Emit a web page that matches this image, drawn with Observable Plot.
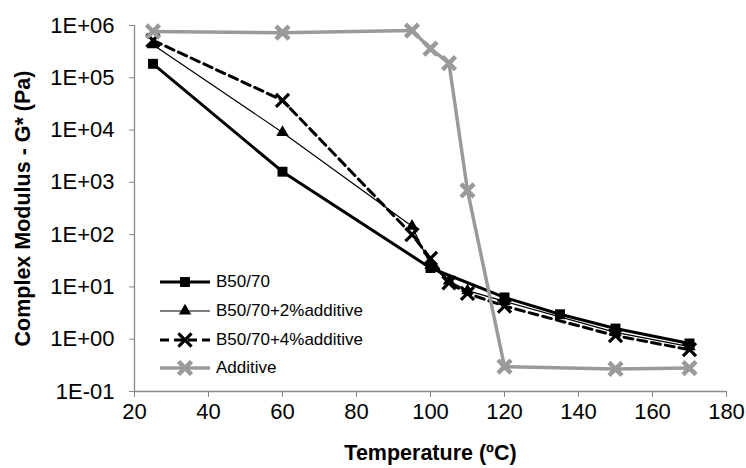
<!DOCTYPE html>
<html><head><meta charset="utf-8">
<script src="https://cdn.jsdelivr.net/npm/d3@7"></script>
<script src="https://cdn.jsdelivr.net/npm/@observablehq/plot@0.6"></script>
<style>
body{margin:0;background:#fff;font-family:"Liberation Sans",Arial,sans-serif}
#wrap{position:relative;width:746px;height:468px}
#legend{position:absolute;left:157px;top:268px;font-size:17px;color:#000}
#legend .row{display:flex;align-items:center;height:28.7px}
#legend svg{display:block;margin-right:3px}
</style></head><body><div id="wrap"></div>
<script>
const seriesNames = ["B50/70", "B50/70+2%additive", "B50/70+4%additive", "Additive"];
const tempB = [25, 60, 100, 120, 135, 150, 170];
const gB = [1.85e5, 1.6e3, 23, 6.3, 3.0, 1.6, 0.83];
const temp2 = [25, 60, 95, 100, 105, 110, 120, 150, 170];
const g2 = [4.3e5, 9e3, 1.45e2, 26, 13, 8.5, 5.3, 1.35, 0.72];
const temp4 = [25, 60, 95, 100, 105, 110, 120, 150, 170];
const g4 = [5.2e5, 3.7e4, 1.0e2, 35, 12, 7.5, 4.3, 1.17, 0.63];
const tempA = [25, 60, 95, 100, 105, 110, 120, 150, 170];
const gA = [7.7e5, 7.3e5, 8e5, 3.6e5, 1.9e5, 700, 0.3, 0.27, 0.28];
const xTicks = [20, 40, 60, 80, 100, 120, 140, 160, 180];
const yTicks = [1e-1, 1e0, 1e1, 1e2, 1e3, 1e4, 1e5, 1e6];
const xTitle = "Temperature (ºC)";
const yTitle = "Complex Modulus - G* (Pa)";

const styles = [
  {stroke: "#000", width: 3, dash: null, symbol: "square", r: 5.6, fill: "#000", mstroke: "none", msw: 0},
  {stroke: "#000", width: 1.2, dash: null, symbol: "triangle", r: 4.6, fill: "#000", mstroke: "none", msw: 0},
  {stroke: "#000", width: 3, dash: "9,5", symbol: "times", r: 6, fill: "none", mstroke: "#000", msw: 3.2},
  {stroke: "#9a9a9a", width: 3.5, dash: null, symbol: "times", r: 6, fill: "none", mstroke: "#9a9a9a", msw: 4.5}
];
const temps = [tempB, temp2, temp4, tempA];
const vals = [gB, g2, g4, gA];
const series = seriesNames.map((name, i) => temps[i].map((t, j) => ({name, t, g: vals[i][j]})));

function fmt(d) {
  const e = Math.round(Math.log10(d));
  return "1E" + (e < 0 ? "-" : "+") + String(Math.abs(e)).padStart(2, "0");
}

const marks = [
  Plot.ruleX([20], {stroke: "#888", strokeWidth: 1.3}),
  Plot.ruleY([0.1], {stroke: "#888", strokeWidth: 1.3}),
  Plot.axisX({ticks: xTicks, tickSize: 6, tickPadding: 6, fontSize: 22, stroke: "#888",
    label: xTitle, labelAnchor: "center", labelOffset: 68, labelArrow: "none"}),
  Plot.axisY({ticks: yTicks, tickFormat: fmt, tickSize: 5, tickPadding: 15, fontSize: 22, stroke: "#888",
    label: yTitle, labelAnchor: "center", labelOffset: 120, labelArrow: "none"})
];
series.forEach((data, i) => {
  const s = styles[i];
  marks.push(Plot.line(data, {x: "t", y: "g", stroke: s.stroke, strokeWidth: s.width,
    strokeDasharray: s.dash || undefined, strokeLinejoin: "round"}));
  marks.push(Plot.dot(data, {x: "t", y: "g", symbol: () => s.symbol, r: s.r,
    fill: s.fill, stroke: s.mstroke, strokeWidth: s.msw}));
});

const chart = Plot.plot({
  width: 746, height: 468,
  marginLeft: 134, marginRight: 20, marginTop: 25, marginBottom: 77,
  style: {fontFamily: "'Liberation Sans', Arial, sans-serif", color: "#000", background: "#fff"},
  x: {domain: [20, 180]},
  y: {type: "log", domain: [0.1, 1e6]},
  marks
});
chart.querySelectorAll('[aria-label="x-axis label"] text, [aria-label="y-axis label"] text').forEach(t => {
  t.setAttribute("font-weight", "bold");
  t.style.fontWeight = "bold";
  t.setAttribute("font-size", "21.5");
});
const wrap = document.getElementById("wrap");
wrap.appendChild(chart);

// legend overlay
const legend = document.createElement("div");
legend.id = "legend";
const symMap = {square: d3.symbolSquare, triangle: d3.symbolTriangle, times: d3.symbolTimes};
seriesNames.forEach((name, i) => {
  const s = styles[i];
  const row = document.createElement("div");
  row.className = "row";
  const svg = d3.create("svg").attr("width", 56).attr("height", 20);
  svg.append("line").attr("x1", 3).attr("x2", 53).attr("y1", 10).attr("y2", 10)
    .attr("stroke", s.stroke).attr("stroke-width", s.width).attr("stroke-dasharray", s.dash);
  svg.append("path").attr("transform", "translate(28,10)")
    .attr("d", d3.symbol(symMap[s.symbol], Math.PI * s.r * s.r)())
    .attr("fill", s.fill).attr("stroke", s.mstroke).attr("stroke-width", s.msw);
  row.appendChild(svg.node());
  const span = document.createElement("span");
  span.textContent = name;
  row.appendChild(span);
  legend.appendChild(row);
});
wrap.appendChild(legend);
</script></body></html>
